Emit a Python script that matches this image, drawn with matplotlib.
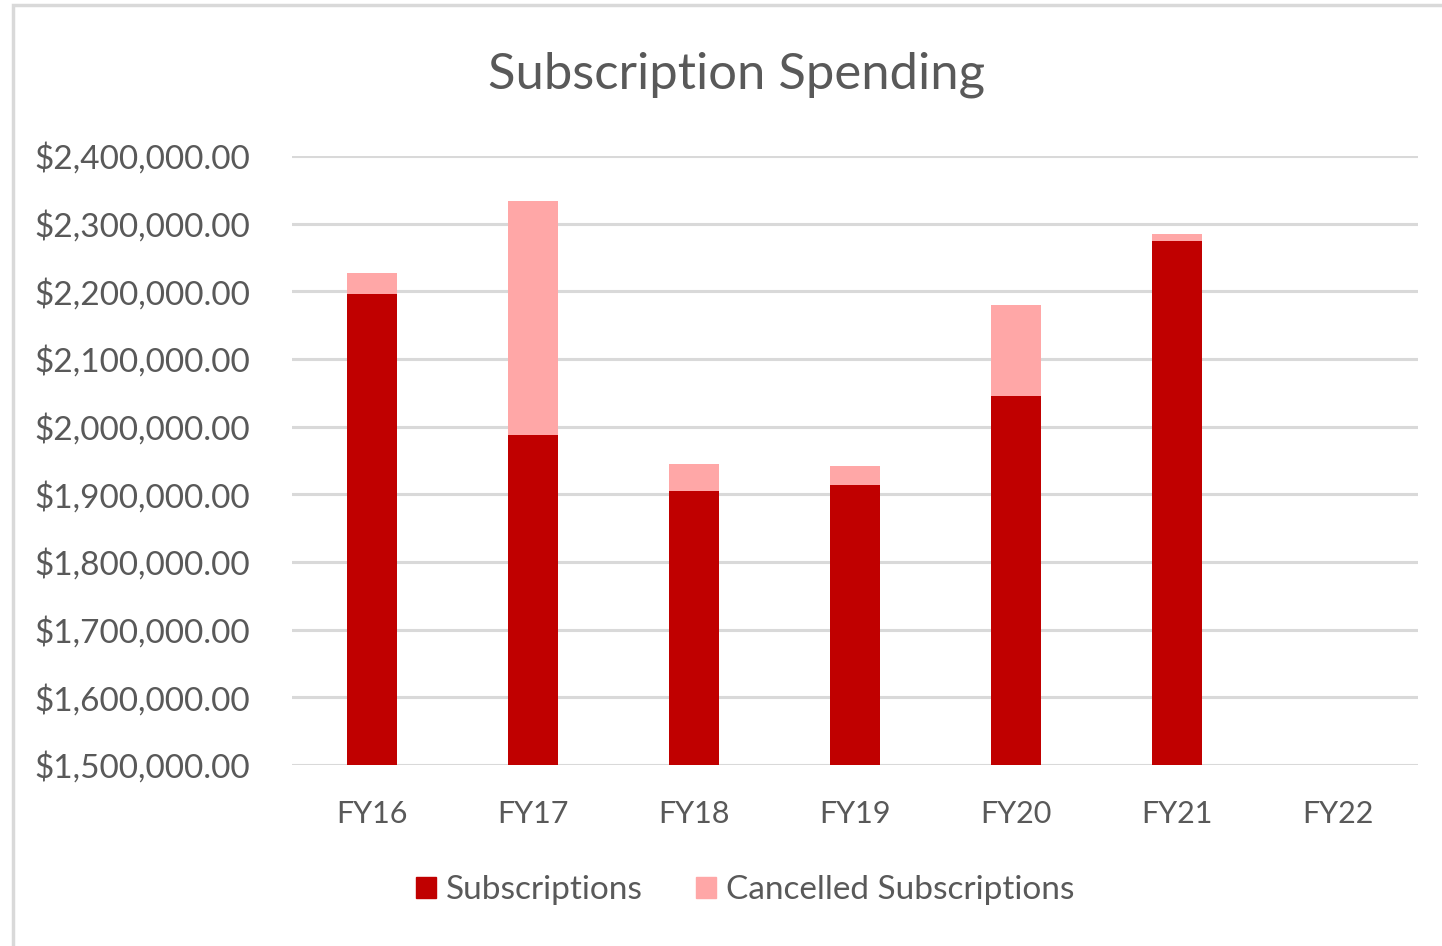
import matplotlib.pyplot as plt
from matplotlib.patches import Rectangle, Patch
from matplotlib.ticker import FuncFormatter

plt.rcParams['font.family'] = ['Lato', 'DejaVu Sans']

# Data
years = ['FY16', 'FY17', 'FY18', 'FY19', 'FY20', 'FY21', 'FY22']
subscriptions = [2196500, 1987700, 1904900, 1913800, 2045300, 2273900, 0]
cancelled = [31000, 345300, 39900, 28100, 134000, 10800, 0]

dark_red = '#C00000'
pink = '#FFA7A7'
text_col = '#595959'
grid_col = '#D9D9D9'

fig = plt.figure(figsize=(14.42, 9.46), dpi=100)
ax = fig.add_axes([292/1442, 1-765/946, (1418-292)/1442, (765-156)/946])

x = range(len(years))
ax.bar(x, subscriptions, width=0.31, color=dark_red, zorder=3)
ax.bar(x, cancelled, width=0.31, bottom=subscriptions, color=pink, zorder=3)

ax.set_xlim(-0.5, len(years)-0.5)
ax.set_ylim(1500000, 2400000)
ax.set_yticks(range(1500000, 2400001, 100000))
ax.yaxis.set_major_formatter(FuncFormatter(lambda v, p: f'${v:,.2f}'))
ax.set_xticks(list(x))
ax.set_xticklabels(years)

ax.grid(axis='y', color=grid_col, linewidth=2.2, zorder=0)
for s in ax.spines.values():
    s.set_visible(False)
ax.tick_params(axis='both', length=0, labelcolor=text_col)
ax.tick_params(axis='y', pad=30, labelsize=24)
ax.tick_params(axis='x', pad=25, labelsize=22)

fig.text(737/1442, 1-75/946, 'Subscription Spending', ha='center', va='center',
         fontsize=36.5, color=text_col)

handles = [Patch(color=dark_red), Patch(color=pink)]
fig.legend(handles, ['Subscriptions', 'Cancelled Subscriptions'], loc='center',
           bbox_to_anchor=(745/1442, 1-890/946), ncol=2, frameon=False,
           fontsize=24, labelcolor=text_col, handlelength=0.6, handleheight=0.6,
           handletextpad=0.3, columnspacing=1.6)

# chart border
fig.patches.append(Rectangle((12.5/1442, -0.1), 1.2, 1-5.5/946+0.1, transform=fig.transFigure,
                             fill=False, edgecolor=grid_col, linewidth=2.5))

fig.savefig('out.png', dpi=100)
